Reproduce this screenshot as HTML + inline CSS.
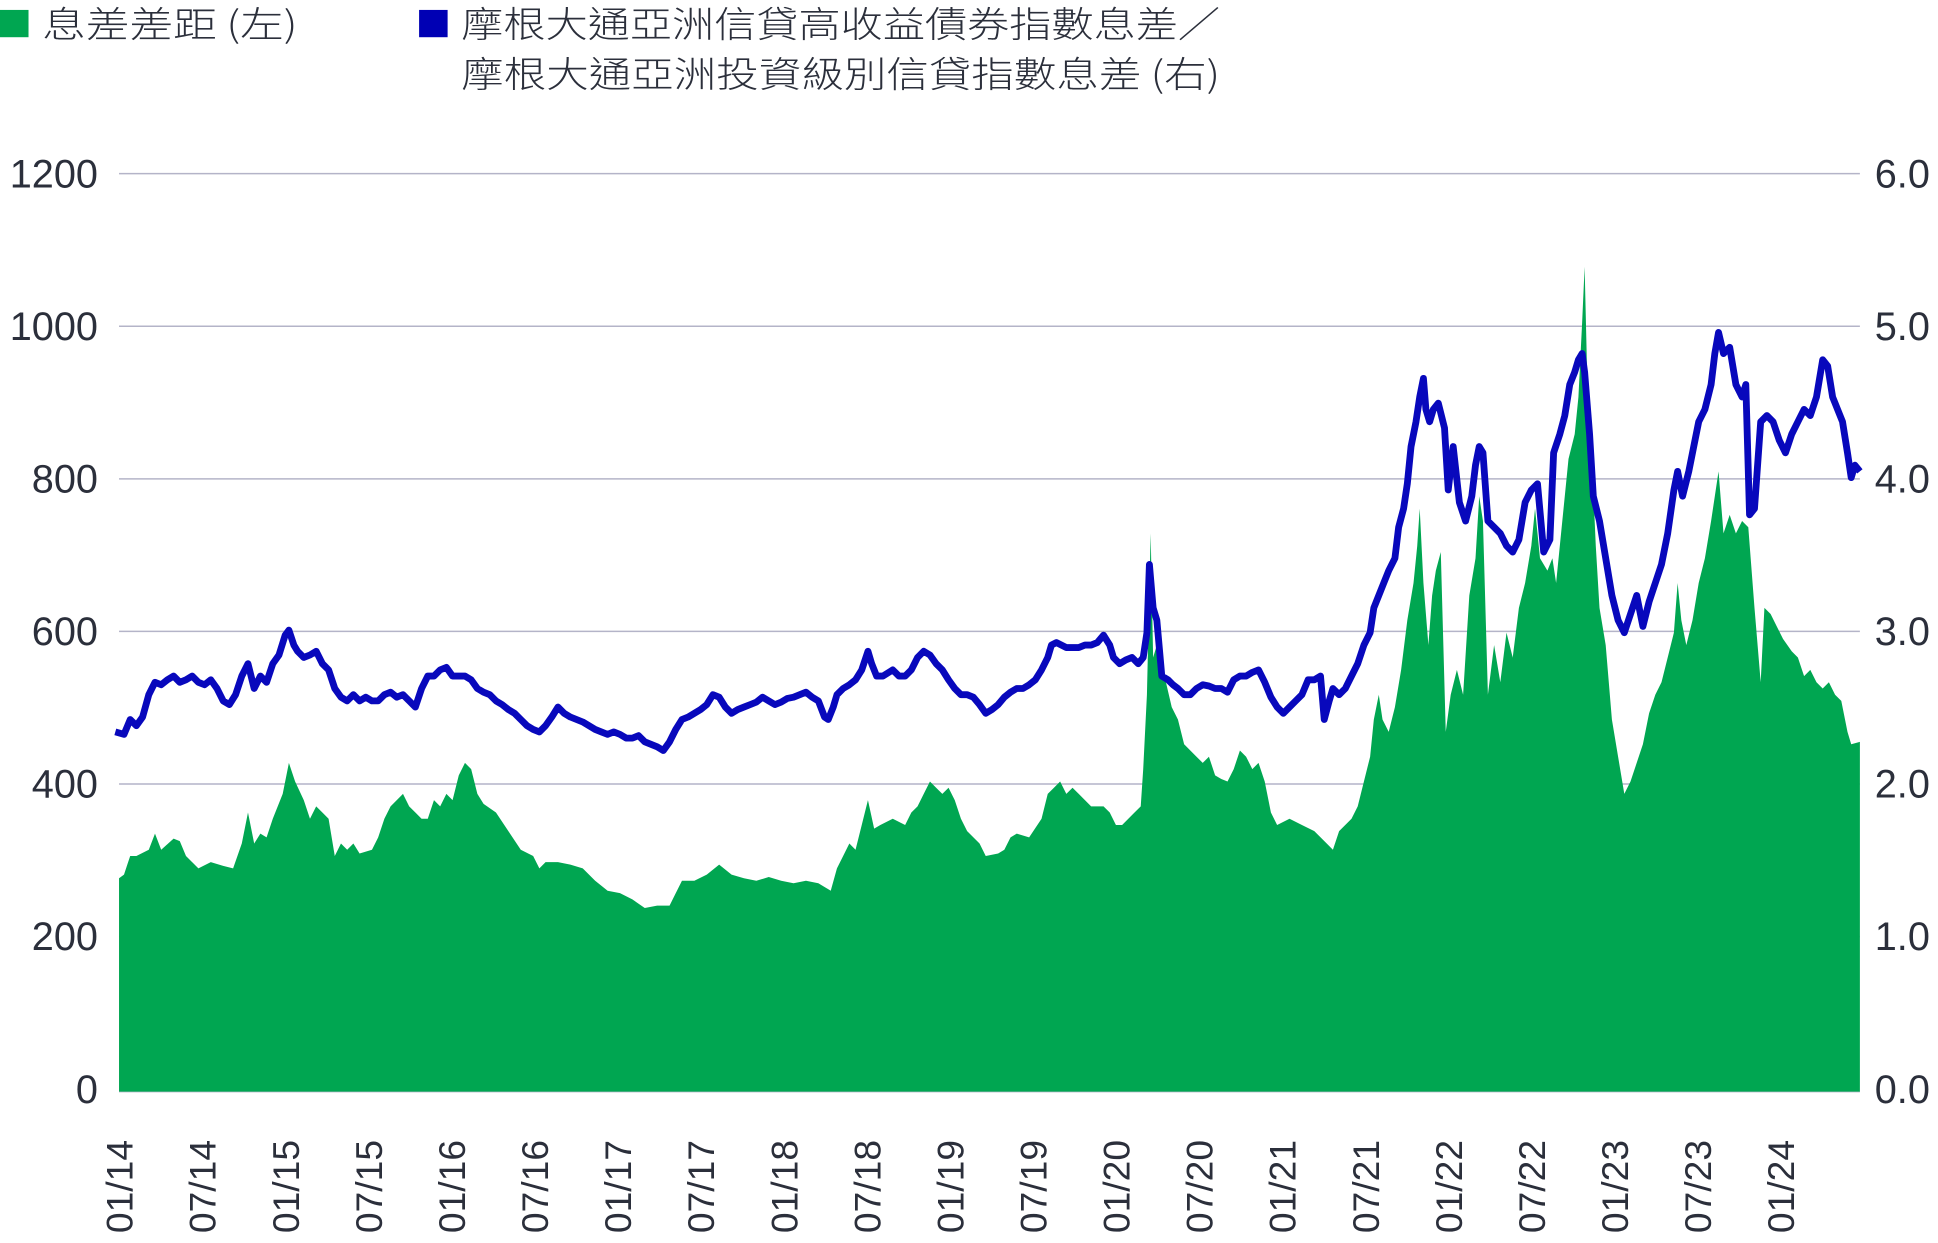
<!DOCTYPE html>
<html><head><meta charset="utf-8"><style>
html,body{margin:0;padding:0;background:#fff;}
svg{display:block;}
text{font-family:"Liberation Sans","Noto Sans CJK TC",sans-serif;fill:#2b2f3b;}
.cjk{font-family:"Noto Sans CJK TC","Liberation Sans",sans-serif;font-weight:300;}
</style></head><body>
<svg width="1938" height="1243" viewBox="0 0 1563 1002" preserveAspectRatio="none" xmlns="http://www.w3.org/2000/svg">
<rect x="0" y="8" width="23" height="22" fill="#00a651"/>
<text class="cjk" x="34" y="30" font-size="29" textLength="206" lengthAdjust="spacingAndGlyphs">息差差距 (左)</text>
<rect x="338" y="8" width="23" height="22" fill="#0000b4"/>
<text class="cjk" x="372" y="30" font-size="29" textLength="612" lengthAdjust="spacingAndGlyphs">摩根大通亞洲信貸高收益債券指數息差／</text>
<text class="cjk" x="372" y="70" font-size="29" textLength="612" lengthAdjust="spacingAndGlyphs">摩根大通亞洲投資級別信貸指數息差 (右)</text>
<g stroke="#b4b4c8" stroke-width="1.2">
<line x1="96" y1="140" x2="1500" y2="140"/><line x1="96" y1="263" x2="1500" y2="263"/>
<line x1="96" y1="386" x2="1500" y2="386"/><line x1="96" y1="509" x2="1500" y2="509"/>
<line x1="96" y1="632" x2="1500" y2="632"/><line x1="96" y1="755" x2="1500" y2="755"/>
<line x1="96" y1="880" x2="1500" y2="880"/>
</g>
<g font-size="32" text-anchor="end" class="cjk">
<text x="79" y="151">1200</text><text x="79" y="274">1000</text><text x="79" y="397">800</text>
<text x="79" y="520">600</text><text x="79" y="643">400</text><text x="79" y="766">200</text><text x="79" y="889">0</text>
</g>
<g font-size="32" class="cjk">
<text x="1512" y="151">6.0</text><text x="1512" y="274">5.0</text><text x="1512" y="397">4.0</text>
<text x="1512" y="520">3.0</text><text x="1512" y="643">2.0</text><text x="1512" y="766">1.0</text><text x="1512" y="889">0.0</text>
</g>
<polygon fill="#00a651" points="96,880 96,708 100,705 105,690 110,690 120,685 125,672 130,685 140,676 145,678 150,690 160,700 170,695 180,698 188,700 195,680 200,655 205,680 210,672 215,675 220,660 228,640 233,615 238,630 245,645 250,660 255,650 260,655 265,660 270,690 275,680 280,685 285,680 290,688 300,685 305,675 310,660 315,650 320,645 325,640 330,650 335,655 340,660 345,660 350,645 355,650 360,640 365,645 370,625 375,615 380,620 385,640 390,648 400,655 410,670 420,685 430,690 435,700 440,695 450,695 460,697 470,700 480,710 490,718 500,720 510,725 520,732 530,730 540,730 545,720 550,710 560,710 570,705 580,697 590,705 600,708 610,710 620,707 630,710 640,712 650,710 660,712 665,715 670,718 675,700 680,690 685,680 690,685 695,665 700,645 705,668 710,665 720,660 730,665 735,655 740,650 745,640 750,630 755,635 760,640 765,635 770,645 775,660 780,670 790,680 795,690 805,688 810,685 815,675 820,672 830,675 840,660 845,640 850,635 855,630 860,640 865,635 870,640 875,645 880,650 890,650 895,655 900,665 905,665 910,660 915,655 920,650 922,620 925,560 928,430 930,530 933,520 938,540 945,570 950,580 955,600 960,605 965,610 970,615 975,610 980,625 985,628 990,630 995,620 1000,605 1005,610 1010,620 1015,615 1020,630 1025,655 1030,665 1040,660 1050,665 1060,670 1070,680 1075,685 1080,670 1090,660 1095,650 1100,630 1105,610 1108,580 1112,560 1115,580 1120,590 1125,570 1130,540 1135,500 1140,470 1143,440 1145,410 1148,470 1152,520 1155,480 1158,460 1162,445 1166,590 1170,560 1175,540 1180,560 1185,480 1190,450 1193,400 1196,420 1200,560 1205,520 1210,550 1215,510 1220,530 1225,490 1230,470 1235,440 1238,410 1242,450 1248,460 1252,450 1255,470 1260,420 1265,370 1270,350 1273,320 1276,260 1278,215 1280,300 1283,350 1287,440 1290,490 1295,520 1300,580 1305,610 1310,640 1315,630 1320,615 1325,600 1330,575 1335,560 1340,550 1345,530 1350,510 1353,470 1356,500 1360,520 1365,500 1370,470 1375,450 1380,420 1383,400 1386,380 1390,430 1395,415 1400,430 1405,420 1410,425 1415,490 1420,550 1423,490 1428,495 1433,505 1438,515 1445,525 1450,530 1455,545 1460,540 1465,550 1470,555 1475,550 1480,560 1485,565 1490,590 1493,600 1500,598 1500,880"/>
<polyline fill="none" stroke="#0808bc" stroke-width="5.5" stroke-linejoin="round" points="93,590 100,592 105,580 110,585 115,578 120,560 125,550 130,552 135,548 140,545 145,550 150,548 155,545 160,550 165,552 170,548 175,555 180,565 185,568 190,560 195,545 200,535 205,555 210,545 215,550 220,535 225,528 230,512 233,508 237,520 240,525 245,530 250,528 255,525 260,535 265,540 270,555 275,562 280,565 285,560 290,565 295,562 300,565 305,565 310,560 315,558 320,562 325,560 330,565 335,570 340,555 345,545 350,545 355,540 360,538 365,545 370,545 375,545 380,548 385,555 390,558 395,560 400,565 405,568 410,572 415,575 420,580 425,585 430,588 435,590 440,585 445,578 450,570 455,575 460,578 465,580 470,582 475,585 480,588 485,590 490,592 495,590 500,592 505,595 510,595 515,593 520,598 525,600 530,602 535,605 540,598 545,588 550,580 555,578 560,575 565,572 570,568 575,560 580,562 585,570 590,575 595,572 600,570 605,568 610,566 615,562 620,565 625,568 630,566 635,563 640,562 645,560 650,558 655,562 660,565 665,578 668,580 672,570 675,560 680,555 685,552 690,548 695,540 700,525 703,535 707,545 712,545 720,540 725,545 730,545 735,540 740,530 745,525 750,528 755,535 760,540 765,548 770,555 775,560 780,560 785,562 790,568 795,575 800,572 805,568 810,562 815,558 820,555 825,555 830,552 835,548 840,540 845,530 848,520 852,518 856,520 860,522 865,522 870,522 875,520 880,520 885,518 890,512 895,520 898,530 903,535 908,532 913,530 918,535 922,530 925,510 927,455 930,490 933,500 937,545 942,548 946,552 950,555 955,560 960,560 965,555 970,552 975,553 980,555 985,555 990,558 995,548 1000,545 1005,545 1010,542 1015,540 1020,550 1025,562 1030,570 1035,575 1040,570 1045,565 1050,560 1055,548 1060,548 1065,545 1068,580 1072,565 1075,555 1080,560 1085,555 1090,545 1095,535 1100,520 1105,510 1108,490 1112,480 1116,470 1120,460 1125,450 1128,425 1132,410 1135,390 1138,360 1142,340 1145,320 1148,305 1150,330 1153,340 1156,330 1160,325 1165,345 1168,395 1172,360 1177,405 1182,420 1187,400 1190,375 1193,360 1196,365 1200,420 1205,425 1210,430 1215,440 1220,445 1225,435 1230,405 1235,395 1240,390 1245,445 1250,435 1253,365 1258,350 1262,335 1266,310 1270,300 1273,290 1276,285 1278,300 1282,350 1285,400 1290,420 1295,450 1300,480 1305,500 1310,510 1315,495 1320,480 1325,505 1330,485 1335,470 1340,455 1345,430 1350,395 1353,380 1357,400 1362,380 1366,360 1370,340 1375,330 1380,310 1383,285 1386,268 1390,285 1395,280 1400,310 1405,320 1408,310 1411,415 1415,410 1420,340 1425,335 1430,340 1435,355 1440,365 1445,350 1450,340 1455,330 1460,335 1465,320 1470,290 1474,295 1478,320 1482,330 1486,340 1490,365 1493,385 1496,375 1500,380"/>
<g font-size="30" class="cjk">
<text transform="translate(107,994) rotate(-90)">01/14</text>
<text transform="translate(174,994) rotate(-90)">07/14</text>
<text transform="translate(241,994) rotate(-90)">01/15</text>
<text transform="translate(308,994) rotate(-90)">07/15</text>
<text transform="translate(375,994) rotate(-90)">01/16</text>
<text transform="translate(442,994) rotate(-90)">07/16</text>
<text transform="translate(509,994) rotate(-90)">01/17</text>
<text transform="translate(576,994) rotate(-90)">07/17</text>
<text transform="translate(643,994) rotate(-90)">01/18</text>
<text transform="translate(710,994) rotate(-90)">07/18</text>
<text transform="translate(777,994) rotate(-90)">01/19</text>
<text transform="translate(844,994) rotate(-90)">07/19</text>
<text transform="translate(911,994) rotate(-90)">01/20</text>
<text transform="translate(978,994) rotate(-90)">07/20</text>
<text transform="translate(1045,994) rotate(-90)">01/21</text>
<text transform="translate(1112,994) rotate(-90)">07/21</text>
<text transform="translate(1179,994) rotate(-90)">01/22</text>
<text transform="translate(1246,994) rotate(-90)">07/22</text>
<text transform="translate(1313,994) rotate(-90)">01/23</text>
<text transform="translate(1380,994) rotate(-90)">07/23</text>
<text transform="translate(1447,994) rotate(-90)">01/24</text>
</g>
</svg>
</body></html>
